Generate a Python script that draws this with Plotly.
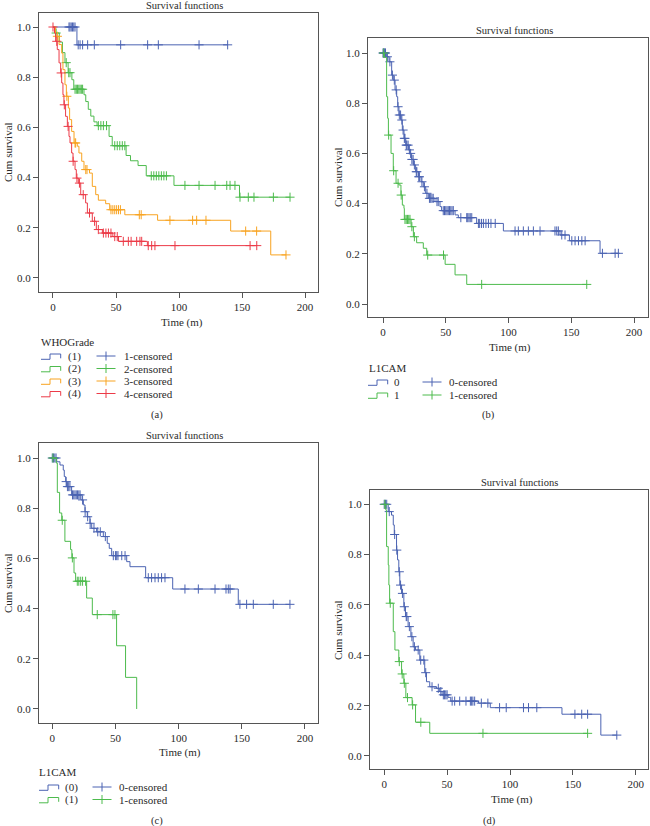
import plotly.graph_objects as go

W, H = 650, 826

# ---------------- DATA ----------------
# Panel (a) WHOGrade
a1_t = [19]
a1_s = [0.929]
a1_c = [12.7, 13.5, 14.5, 15.5, 16.5, 17.5, 20, 21.5, 23.5, 27.5, 32.8, 53.7, 75.1, 83.6, 115.9, 138.6]

a2_t = [2, 5, 7.5, 9.5, 12, 15, 16.5, 24.6, 26, 28, 30, 32.5, 35, 44.5, 47, 58, 61.5, 67.5, 74, 96, 148]
a2_s = [0.976, 0.94, 0.898, 0.858, 0.818, 0.79, 0.752, 0.73, 0.703, 0.672, 0.645, 0.622, 0.607, 0.564,
        0.527, 0.488, 0.467, 0.448, 0.407, 0.369, 0.322]
a2_c = [2.5, 10.5, 12.5, 13.5, 17.5, 18.5, 19.5, 20.5, 21.5, 22.5, 23.5, 36, 38, 40, 42.5, 49, 51, 53, 55, 57,
        78, 80, 82, 84, 86, 88, 90, 104.7, 115.9, 128.6, 137.9, 140.5, 144.4, 148.4, 155, 159.5, 174.9, 188.1]

a3_t = [2, 4.8, 6.9, 7.9, 9.5, 10.6, 12.2, 13.2, 14.8, 16.7, 19.3, 20.6, 22.8, 24.6, 29, 31.2, 33.9, 36,
        41.8, 45, 57, 83, 141, 172.8]
a3_s = [0.963, 0.93, 0.896, 0.83, 0.77, 0.724, 0.677, 0.631, 0.584, 0.538, 0.525, 0.498, 0.465, 0.432,
        0.418, 0.365, 0.332, 0.31, 0.296, 0.272, 0.252, 0.23, 0.187, 0.092]
a3_c = [3.5, 11, 17.5, 18, 26, 27, 46, 47.5, 49, 50.5, 52, 53.5, 68.5, 70, 92.8, 110.8, 114, 121.4,
        152.9, 161.6, 184.9]

a4_t = [1.2, 2.1, 3.4, 4.8, 6.1, 6.9, 7.9, 8.7, 10, 11.4, 12.7, 13.5, 14.8, 15.9, 17.5, 18.5, 20.1, 22,
        25.9, 27.3, 31.2, 34.4, 39.2, 47.5, 52, 74.9]
a4_s = [0.976, 0.943, 0.91, 0.857, 0.817, 0.777, 0.73, 0.69, 0.644, 0.604, 0.564, 0.538, 0.498, 0.465,
        0.432, 0.398, 0.378, 0.332, 0.299, 0.259, 0.226, 0.193, 0.179, 0.165, 0.146, 0.129]
a4_c = [0, 3, 6.5, 9, 12, 16, 19, 21, 24, 29, 33, 36, 40, 42, 44, 46, 49, 51, 55.8, 59.8, 62, 66.4, 69,
        70.4, 75.6, 78.3, 80.9, 96.8, 156.4, 161.7]

# Panel (b) L1CAM
b0_t = [2.9, 4.8, 6.9, 8.2, 9.6, 10.9, 11.7, 12.7, 14.3, 15.4, 16.7, 18.1, 20.2, 21.5, 22.8, 24.2, 26,
        28.2, 30.3, 32.1, 34, 36.1, 41.4, 45.4, 46.7, 57.4, 60, 74.6, 95.9, 141, 148.5, 172.9]
b0_s = [0.985, 0.965, 0.912, 0.892, 0.853, 0.826, 0.786, 0.753, 0.733, 0.693, 0.66, 0.633, 0.614, 0.6,
        0.576, 0.554, 0.527, 0.507, 0.487, 0.467, 0.441, 0.421, 0.408, 0.388, 0.372, 0.355, 0.344, 0.321,
        0.291, 0.275, 0.252, 0.202]
b0_c = [0, 0.5, 1, 1.5, 2, 3.5, 5.5, 7.5, 9, 10.5, 12, 13, 14, 15, 16, 17, 17.5, 18.5, 19, 20, 21, 22, 23,
        24, 25, 26.5, 27, 28.5, 29, 31, 33, 35, 37, 38, 39, 40, 43, 44, 48, 49, 50, 51, 52, 53, 54, 55, 56,
        62, 66.7, 67.5, 68.5, 69.5, 70.7, 76, 77, 78.5, 80, 82, 84, 86, 89.4, 105.2, 107.8, 111.8, 115.8,
        119.8, 125.1, 137, 138.4, 139.7, 142.4, 145, 150.4, 153, 155.7, 158.4, 161, 174.8, 184.9, 187.5]

b1_t = [1.1, 2.9, 3.7, 4.3, 6.4, 8.2, 10.4, 12.7, 14.3, 15.4, 16.7, 17, 22.4, 24.2, 26.8, 32.1, 34.8,
        49.5, 57.4, 66.7]
b1_s = [0.983, 0.826, 0.74, 0.673, 0.6, 0.531, 0.481, 0.474, 0.434, 0.394, 0.381, 0.337, 0.308, 0.268,
        0.244, 0.222, 0.195, 0.158, 0.116, 0.078]
b1_c = [0.5, 4.5, 8.5, 12, 14.5, 17.5, 18.5, 19.5, 20.5, 21.5, 23, 25, 35.6, 48.2, 78.6, 162.3]

# Panel (c) L1CAM
c0_t = [3.5, 6.1, 8.7, 9.5, 10.6, 11.4, 15.3, 22.7, 24.6, 25.9, 27.7, 29.8, 31.2, 35.1, 40.4, 43.5,
        45.1, 47, 58.9, 61.5, 73.9, 95.3, 147.2]
c0_s = [0.985, 0.972, 0.952, 0.926, 0.906, 0.886, 0.853, 0.833, 0.813, 0.786, 0.766, 0.74, 0.72, 0.706,
        0.687, 0.66, 0.64, 0.611, 0.587, 0.567, 0.523, 0.478, 0.417]
c0_c = [0, 1, 2, 3, 11, 12, 13, 14, 16, 17, 18, 19, 20, 21, 22, 24, 26, 28, 30, 33, 36, 38, 42, 48.3, 50,
        51, 52, 55, 57.6, 76, 78.6, 81.3, 83.9, 86.5, 89.2, 105, 115.6, 128.8, 137.5, 139.3, 140.7, 148.5,
        153.8, 159.1, 174.9, 188.1]

c1_t = [3.2, 4, 5.8, 7.5, 10, 14.5, 15.5, 17.2, 18.5, 27.2, 31.7, 50.9, 58, 66.8]
c1_s = [0.98, 0.863, 0.781, 0.752, 0.668, 0.635, 0.602, 0.542, 0.509, 0.442, 0.376, 0.252, 0.126, 0.0]
c1_c = [0.5, 7.9, 15.9, 19.8, 21, 22.5, 24, 26.4, 35.6, 48, 49.6]

# Panel (d)
d0_t = [3.2, 5.8, 7.2, 8, 9.8, 10.6, 11.6, 12.4, 13.8, 15.6, 16.9, 19, 21.2, 23, 24.9, 28.3, 32.2, 33.6,
        36.2, 41.5, 44.1, 46, 50.7, 52.9, 75, 84.3, 141.3, 172.2]
d0_s = [0.971, 0.957, 0.918, 0.88, 0.818, 0.779, 0.732, 0.679, 0.646, 0.593, 0.554, 0.514, 0.474, 0.434,
        0.421, 0.381, 0.331, 0.295, 0.275, 0.269, 0.256, 0.243, 0.233, 0.218, 0.21, 0.192, 0.166, 0.083]
d0_c = [0, 1, 2, 4, 8.3, 10, 12, 13, 14.5, 16, 17.5, 18, 20, 22, 24, 27, 29, 31.5, 33, 38, 43, 45, 47, 48,
        49, 50, 54, 56, 60, 65, 68.5, 69.5, 70.5, 71.9, 77.2, 82.4, 91.7, 97, 110.7, 114.7, 121.3, 151.6,
        157, 161.7, 184.9]

d1_t = [1.3, 1.9, 3.2, 3.7, 4.3, 7.2, 8.5, 11.6, 13.8, 15.6, 17.2, 22.2, 24.9, 36.2]
d1_s = [0.977, 0.832, 0.759, 0.679, 0.607, 0.494, 0.421, 0.375, 0.326, 0.289, 0.232, 0.203, 0.134, 0.09]
d1_c = [0.5, 4.8, 12, 14.3, 16, 18.5, 22.6, 29.1, 78.5, 161.7]

x_ticks = [0, 50, 100, 150, 200]
y_ticks = [0.0, 0.2, 0.4, 0.6, 0.8, 1.0]

# ---------------- STYLE ----------------
BLUE = '#4b63b2'
GREEN = '#4dbb4d'
ORANGE = '#f8a320'
RED = '#ec3b48'
FONT = 'Liberation Serif'
TXT = '#2a2a2a'
AX = '#555555'


def surv_at(t, times, surv):
    s = 1.0
    for tt, ss in zip(times, surv):
        if tt <= t:
            s = ss
        else:
            break
    return s


fig = go.Figure()

panels = [
    dict(name='1', groups=[(a1_t, a1_s, a1_c, BLUE), (a2_t, a2_s, a2_c, GREEN),
                           (a3_t, a3_s, a3_c, ORANGE), (a4_t, a4_s, a4_c, RED)],
         xdom=(39, 318), ydom=(13, 292), xr=(-11.1, 210.3), yr=(-0.0558, 1.0558)),
    dict(name='2', groups=[(b0_t, b0_s, b0_c, BLUE), (b1_t, b1_s, b1_c, GREEN)],
         xdom=(368, 648), ydom=(38, 317), xr=(-11.95, 211.1), yr=(-0.0518, 1.0598)),
    dict(name='3', groups=[(c0_t, c0_s, c0_c, BLUE), (c1_t, c1_s, c1_c, GREEN)],
         xdom=(39, 318), ydom=(443, 723), xr=(-10.5, 210.3), yr=(-0.0558, 1.0598)),
    dict(name='4', groups=[(d0_t, d0_s, d0_c, BLUE), (d1_t, d1_s, d1_c, GREEN)],
         xdom=(370, 648), ydom=(490, 769), xr=(-11.3, 209.7), yr=(-0.0517, 1.0568)),
]

layout_axes = {}
for p in panels:
    n = p['name']
    xa = 'x' if n == '1' else 'x' + n
    ya = 'y' if n == '1' else 'y' + n
    for (tt, ss, cc, col) in p['groups']:
        end = max([tt[-1]] + cc)
        xs = [0] + tt + [end]
        ys = [1.0] + ss + [ss[-1]]
        fig.add_trace(go.Scatter(x=xs, y=ys, mode='lines', line=dict(color=col, width=1, shape='hv'),
                                 xaxis=xa, yaxis=ya, showlegend=False, hoverinfo='skip'))
        fig.add_trace(go.Scatter(x=cc, y=[surv_at(c, tt, ss) for c in cc], mode='markers',
                                 marker=dict(symbol='cross-thin', size=6.5, line=dict(color=col, width=1)),
                                 xaxis=xa, yaxis=ya, showlegend=False, hoverinfo='skip'))
    common = dict(showline=True, mirror=True, linecolor=AX, linewidth=1, ticks='outside', ticklen=5,
                  tickcolor=AX, tickwidth=1, showgrid=False, zeroline=False,
                  tickfont=dict(family=FONT, size=11, color=TXT))
    layout_axes['xaxis' if n == '1' else 'xaxis' + n] = dict(
        domain=[p['xdom'][0] / W, p['xdom'][1] / W], range=list(p['xr']), tickvals=x_ticks,
        anchor=ya, **common)
    layout_axes['yaxis' if n == '1' else 'yaxis' + n] = dict(
        domain=[1 - p['ydom'][1] / H, 1 - p['ydom'][0] / H], range=list(p['yr']), tickvals=y_ticks,
        tickformat='.1f', anchor=xa, **common)

ann = []
shapes = []


def px(x):
    return x / W


def py(y):
    return 1 - y / H


def text(x, y, s, size=11, xanchor='center', angle=0):
    ann.append(dict(x=px(x), y=py(y), xref='paper', yref='paper', text=s, showarrow=False,
                    xanchor=xanchor, yanchor='middle', textangle=angle,
                    font=dict(family=FONT, size=size, color=TXT)))


# titles
for (x, y) in [(184, 6), (514, 30), (184, 436), (519, 482)]:
    text(x, y, 'Survival functions', size=10.5)
for (x, y) in [(8, 152), (338, 177), (8, 583), (338, 630)]:
    text(x, y, 'Cum survival', size=11, angle=-90)
for (x, y) in [(182, 322), (510, 347), (180, 752), (512, 799)]:
    text(x, y, 'Time (m)', size=11)
for (x, y, s) in [(157, 415, '(a)'), (488, 415, '(b)'), (157, 821, '(c)'), (489, 821, '(d)')]:
    text(x, y, s, size=10.5)


def step_icon(xl, yc, col):
    path = 'M {},{} L {},{} L {},{} L {},{} L {},{}'.format(
        px(xl), py(yc + 3.3), px(xl + 9), py(yc + 3.3), px(xl + 9), py(yc - 2),
        px(xl + 19.7), py(yc - 2), px(xl + 19.7), py(yc + 2.3))
    shapes.append(dict(type='path', path=path, xref='paper', yref='paper',
                       line=dict(color=col, width=1)))


def cross_icon(xc, yc, col):
    shapes.append(dict(type='line', xref='paper', yref='paper', x0=px(xc - 9.5), x1=px(xc + 9.5),
                       y0=py(yc), y1=py(yc), line=dict(color=col, width=1)))
    shapes.append(dict(type='line', xref='paper', yref='paper', x0=px(xc), x1=px(xc),
                       y0=py(yc - 4.5), y1=py(yc + 4.5), line=dict(color=col, width=1)))


def legend(title, tx, ty, rows, xl, lx, cx, clx, labels, clabels, cols):
    text(tx, ty, title, size=11, xanchor='left')
    for yc, lab, clab, col in zip(rows, labels, clabels, cols):
        step_icon(xl, yc, col)
        text(lx, yc, lab, size=11, xanchor='left')
        cross_icon(cx, yc, col)
        text(clx, yc, clab, size=11, xanchor='left')


legend('WHOGrade', 39, 342, [356, 368.5, 381, 393.5], 41, 66, 106, 122,
       ['(1)', '(2)', '(3)', '(4)'], ['1-censored', '2-censored', '3-censored', '4-censored'],
       [BLUE, GREEN, ORANGE, RED])
legend('L1CAM', 367, 368, [382, 395], 368, 392, 432, 447,
       ['0', '1'], ['0-censored', '1-censored'], [BLUE, GREEN])
legend('L1CAM', 37, 772, [787, 799.5], 39, 63, 102, 117,
       ['(0)', '(1)'], ['0-censored', '1-censored'], [BLUE, GREEN])

fig.update_layout(width=W, height=H, margin=dict(l=0, r=0, t=0, b=0), plot_bgcolor='white',
                  paper_bgcolor='white', showlegend=False, annotations=ann, shapes=shapes,
                  **layout_axes)

fig.write_html('out.html', config={'displayModeBar': False},
               post_script="document.body.style.margin='0';document.body.style.overflow='hidden';")
